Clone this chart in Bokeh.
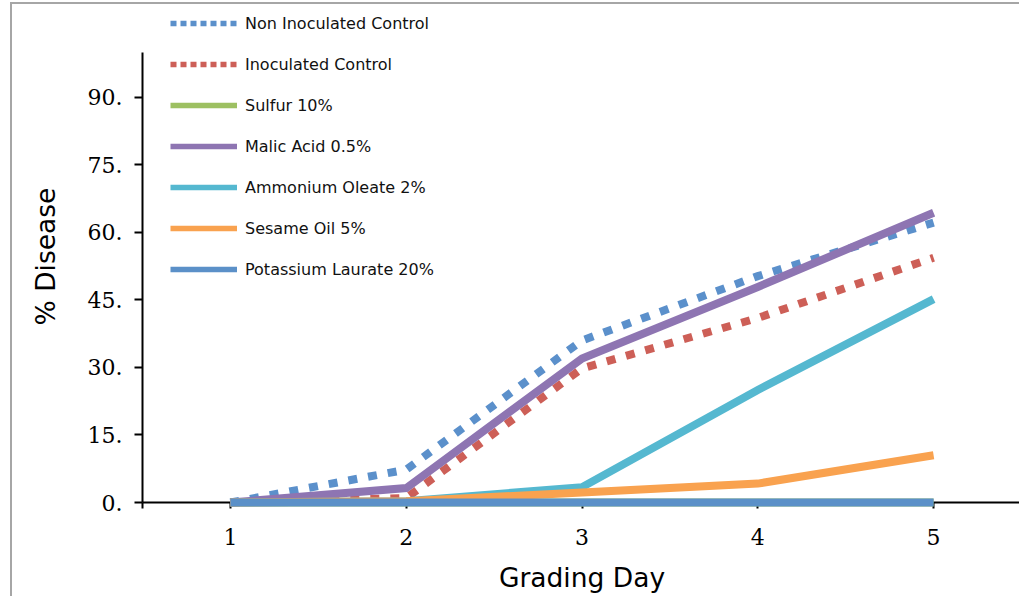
from bokeh.plotting import figure
from bokeh.models import Range1d, FixedTicker, Legend, LegendItem
from bokeh.embed import file_html
from bokeh.resources import INLINE

days = [1, 2, 3, 4, 5]
non_inoculated = [0, 7.3, 36, 50.3, 62.2]
inoculated = [0, 1, 29.8, 41, 54.4]
sulfur = [0, 0, 0, 0, 0]
malic = [0, 3.2, 32, 47.9, 64.4]
ammonium = [0, 0.3, 3.4, 25, 45.2]
sesame = [0, 0.3, 2.2, 4.2, 10.5]
potassium = [0, 0, 0, 0, 0]

series_names = ["Non Inoculated Control", "Inoculated Control", "Sulfur 10%",
                "Malic Acid 0.5%", "Ammonium Oleate 2%", "Sesame Oil 5%",
                "Potassium Laurate 20%"]
series_values = [non_inoculated, inoculated, sulfur, malic, ammonium, sesame, potassium]
series_colors = ["#5B90CB", "#CD5F57", "#9DC062", "#8E75B2", "#55B8D0", "#F9A24F", "#5B90C8"]
series_dash = ["9 11", "9 11", "solid", "solid", "solid", "solid", "solid"]
legend_dash = ["6 4", "6 4", "solid", "solid", "solid", "solid", "solid"]

y_ticks = [0, 15, 30, 45, 60, 75, 90]
y_tick_labels = ["0.", "15.", "30.", "45.", "60.", "75.", "90."]
x_ticks = [0.5, 1, 2, 3, 4, 5, 5.5]
x_tick_labels = ["", "1", "2", "3", "4", "5", ""]

p = figure(width=1009, height=594, output_backend="svg", toolbar_location=None,
           x_range=Range1d(0.5, 5.5), y_range=Range1d(0, 109.33),
           min_border_left=130, min_border_right=0, min_border_top=6,
           min_border_bottom=96)
p.styles = {"margin-left": "10px", "margin-top": "2px",
            "border-left": "2px solid #a6a6a6", "border-top": "2px solid #a6a6a6"}
p.grid.visible = False
p.outline_line_color = None
p.background_fill_color = "white"

nan = float("nan")
items = []
for name, vals, col, dash, ldash in zip(series_names, series_values, series_colors,
                                        series_dash, legend_dash):
    p.line(days, vals, line_color=col, line_width=8, line_dash=dash,
           line_cap="butt", line_join="miter", level="overlay")
    # legend-only proxy (no visible mark) so the legend key can be thinner/denser
    proxy = p.line([nan], [nan], line_color=col, line_width=5.5, line_dash=ldash,
                   line_cap="butt")
    items.append(LegendItem(label=name, renderers=[proxy]))

legend = Legend(items=items, location=(28, 223), padding=0, margin=0,
                spacing=21, glyph_width=67, glyph_height=20, label_height=20,
                label_standoff=8, label_text_font="DejaVu Sans",
                label_text_font_size="16px", label_text_color="#111111",
                border_line_alpha=0, background_fill_alpha=0)
p.add_layout(legend)

xa = p.xaxis[0]
xa.ticker = FixedTicker(ticks=x_ticks)
xa.major_label_overrides = {t: l for t, l in zip(x_ticks, x_tick_labels)}
xa.axis_line_width = 2
xa.axis_line_color = "black"
xa.major_tick_line_width = 2
xa.major_tick_out = 6
xa.major_tick_in = 0
xa.minor_tick_line_color = None
xa.major_label_text_font = "DejaVu Serif"
xa.major_label_text_font_size = "22px"
xa.major_label_text_color = "black"
xa.major_label_standoff = 20
xa.axis_label = "Grading Day"
xa.axis_label_text_font = "DejaVu Sans"
xa.axis_label_text_font_size = "26.5px"
xa.axis_label_text_font_style = "normal"
xa.axis_label_text_color = "black"
xa.axis_label_standoff = 14

ya = p.yaxis[0]
ya.bounds = (0, 100)
ya.ticker = FixedTicker(ticks=y_ticks)
ya.major_label_overrides = {t: l for t, l in zip(y_ticks, y_tick_labels)}
ya.axis_line_width = 2
ya.axis_line_color = "black"
ya.major_tick_line_width = 2
ya.major_tick_out = 8
ya.major_tick_in = 0
ya.minor_tick_line_color = None
ya.major_label_text_font = "DejaVu Serif"
ya.major_label_text_font_size = "22px"
ya.major_label_text_color = "black"
ya.major_label_standoff = 12
ya.axis_label = "% Disease"
ya.axis_label_text_font = "DejaVu Sans"
ya.axis_label_text_font_size = "26.5px"
ya.axis_label_text_font_style = "normal"
ya.axis_label_text_color = "black"
ya.axis_label_standoff = 24

open("out.html", "w").write(file_html(p, INLINE))
